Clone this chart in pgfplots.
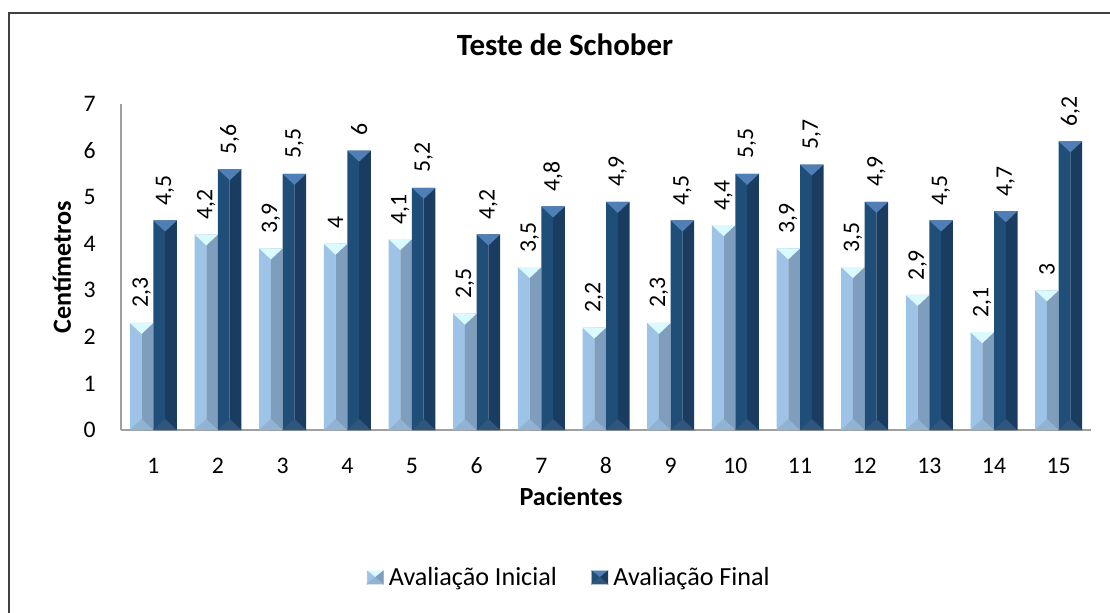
\documentclass[border=0pt]{standalone}
\usepackage{pgfplots}
\pgfplotsset{compat=1.18}
\usepackage{pgfplotstable}
\usepackage{fontspec}
\setmainfont{Carlito}

\definecolor{lightL}{RGB}{157,195,230}
\definecolor{lightR}{RGB}{127,158,190}
\definecolor{lightTop}{RGB}{218,250,255}
\definecolor{lightBot}{RGB}{146,178,210}
\definecolor{darkL}{RGB}{31,78,121}
\definecolor{darkR}{RGB}{26,60,97}
\definecolor{darkTop}{RGB}{79,127,182}
\definecolor{darkBot}{RGB}{48,86,126}
\definecolor{axisgray}{RGB}{160,160,160}
\definecolor{framegray}{RGB}{64,64,64}

\pgfdeclareplotmark{captop}{%
  \pgfpathmoveto{\pgfqpoint{-8.81pt}{0pt}}%
  \pgfpathlineto{\pgfqpoint{8.81pt}{0pt}}%
  \pgfpathlineto{\pgfqpoint{0pt}{-8.3pt}}%
  \pgfpathclose\pgfusepathqfill}
\pgfdeclareplotmark{capbot}{%
  \pgfpathmoveto{\pgfqpoint{-8.81pt}{0pt}}%
  \pgfpathlineto{\pgfqpoint{8.81pt}{0pt}}%
  \pgfpathlineto{\pgfqpoint{0pt}{8.3pt}}%
  \pgfpathclose\pgfusepathqfill}

\pgfplotstableread{
x ini fin
1 2.3 4.5
2 4.2 5.6
3 3.9 5.5
4 4 6
5 4.1 5.2
6 2.5 4.2
7 3.5 4.8
8 2.2 4.9
9 2.3 4.5
10 4.4 5.5
11 3.9 5.7
12 3.5 4.9
13 2.9 4.5
14 2.1 4.7
15 3 6.2
}\data

\begin{document}
\begin{tikzpicture}
\path[use as bounding box] (-90.75pt,-136.5pt) rectangle (741.75pt,322.5pt);
\draw[line width=1.1pt, color=framegray] (-84pt,-140pt) -- (-84pt,312.75pt) -- (745pt,312.75pt);
\begin{axis}[
  at={(0,0)}, anchor=south west,
  width=727.5pt, height=244.5pt, scale only axis,
  xmin=0.5, xmax=15.5, ymin=0, ymax=7,
  xtick={1,...,15}, ytick={0,...,7},
  axis x line*=bottom, axis y line*=left,
  axis line style={-, draw=axisgray, line width=1.1pt},
  major tick length=0pt,
  clip=false,
  /pgf/number format/assume math mode=true,
  /pgf/number format/use comma,
  tick label style={font=\fontsize{17.8}{21}\selectfont},
  xticklabel style={anchor=base, yshift=-32.25pt},
  yticklabel style={anchor=east, inner sep=0pt, xshift=-18.75pt},
  title={Teste de Schober},
  title style={font=\fontsize{23.2}{27}\selectfont\bfseries, at={(axis description cs:0.4577,1)}, anchor=base, yshift=30.75pt},
  xlabel={Pacientes},
  xlabel style={font=\fontsize{19.6}{23}\selectfont\bfseries, at={(axis description cs:0.4639,-0.2301)}, anchor=base},
  ylabel={Centímetros},
  ylabel style={font=\fontsize{19.6}{23}\selectfont\bfseries, at={(axis description cs:-0.0608,0.5)}, anchor=center},
  legend columns=2,
  legend style={draw=none, fill=none, at={(axis description cs:0.4619,-0.4509)}, anchor=center,
    font=\fontsize{19.6}{23}\selectfont, nodes={inner sep=1pt},
    /tikz/every even column/.append style={column sep=25pt},
    /tikz/every odd column/.append style={column sep=3pt}},
]
% light bars (two halves)
\addplot[forget plot, ybar, bar width=0.1817, bar shift=-0.2725, fill=lightL, draw=none] table[x=x, y=ini] {\data};
\addplot[forget plot, ybar, bar width=0.1817, bar shift=-0.0908, fill=lightR, draw=none] table[x=x, y=ini] {\data};
% dark bars (two halves)
\addplot[forget plot, ybar, bar width=0.1817, bar shift=0.0908, fill=darkL, draw=none] table[x=x, y=fin] {\data};
\addplot[forget plot, ybar, bar width=0.1817, bar shift=0.2725, fill=darkR, draw=none] table[x=x, y=fin] {\data};
% bottom bevels
\addplot[forget plot, only marks, mark=capbot, color=lightBot, mark options={fill=lightBot, draw=none}] table[x expr=\thisrow{x}-0.1817, y expr=0] {\data};
\addplot[forget plot, only marks, mark=capbot, color=darkBot, mark options={fill=darkBot, draw=none}] table[x expr=\thisrow{x}+0.1817, y expr=0] {\data};
% top bevels with value labels
\addplot[forget plot, only marks, mark=captop, color=lightTop, mark options={fill=lightTop, draw=none},
  nodes near coords, point meta=y,
  nodes near coords style={text=black, font=\fontsize{17.8}{21}\selectfont, rotate=90, anchor=west, inner xsep=11pt, inner ysep=0pt}]
  table[x expr=\thisrow{x}-0.1817, y=ini] {\data};
\addplot[forget plot, only marks, mark=captop, color=darkTop, mark options={fill=darkTop, draw=none},
  nodes near coords, point meta=y,
  nodes near coords style={text=black, font=\fontsize{17.8}{21}\selectfont, rotate=90, anchor=west, inner xsep=11pt, inner ysep=0pt}]
  table[x expr=\thisrow{x}+0.1817, y=fin] {\data};

\addlegendimage{legend image code/.code={
  \begin{scope}[yshift=-5.25pt]
  \fill[lightTop] (0pt,9.75pt) -- (12pt,9.75pt) -- (6pt,4.875pt) -- cycle;
  \fill[lightL] (0pt,0pt) -- (0pt,9.75pt) -- (6pt,4.875pt) -- cycle;
  \fill[lightR] (12pt,0pt) -- (12pt,9.75pt) -- (6pt,4.875pt) -- cycle;
  \fill[lightBot] (0pt,0pt) -- (12pt,0pt) -- (6pt,4.875pt) -- cycle;
  \end{scope}
}}
\addlegendentry{Avaliação Inicial}
\addlegendimage{legend image code/.code={
  \begin{scope}[yshift=-5.25pt]
  \fill[darkTop] (0pt,9.75pt) -- (12pt,9.75pt) -- (6pt,4.875pt) -- cycle;
  \fill[darkL] (0pt,0pt) -- (0pt,9.75pt) -- (6pt,4.875pt) -- cycle;
  \fill[darkR] (12pt,0pt) -- (12pt,9.75pt) -- (6pt,4.875pt) -- cycle;
  \fill[darkBot] (0pt,0pt) -- (12pt,0pt) -- (6pt,4.875pt) -- cycle;
  \end{scope}
}}
\addlegendentry{Avaliação Final}
\end{axis}
\end{tikzpicture}
\end{document}
